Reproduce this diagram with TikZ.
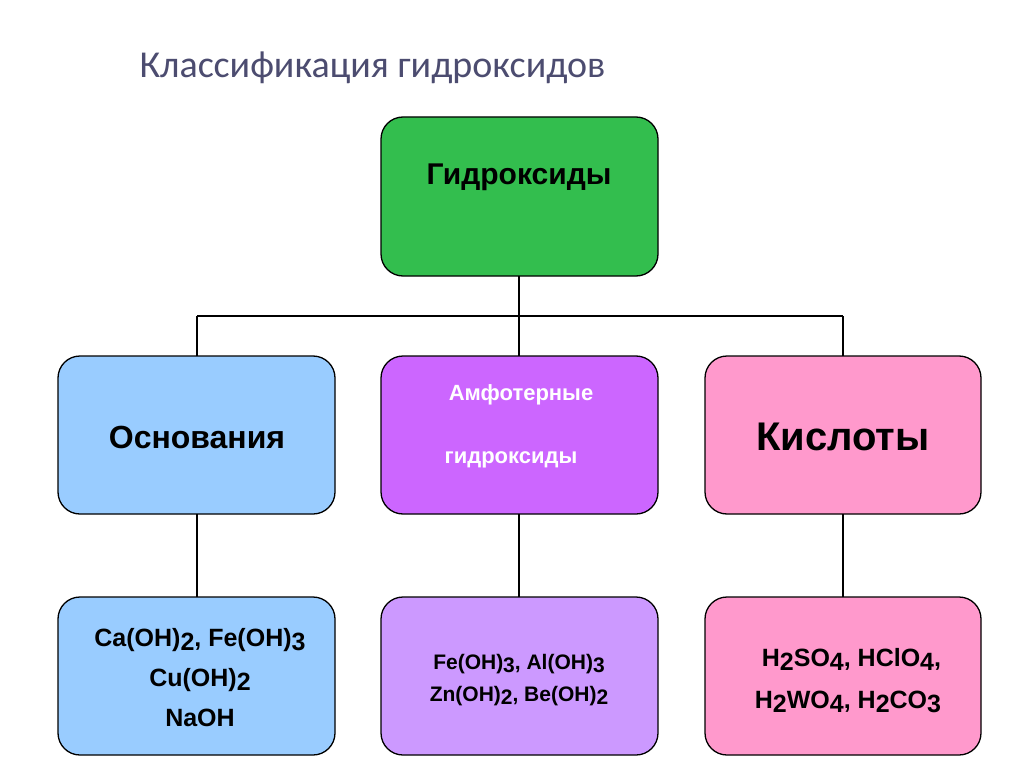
\documentclass[tikz,border=0pt]{standalone}
\usepackage{fontspec}
\setmainfont{Liberation Sans}
\newfontfamily\titlefont{Carlito}
\newcommand{\sbs}[1]{\raisebox{-0.3ex}{#1}}
\begin{document}
\begin{tikzpicture}[x=1pt,y=-1pt,
  box/.style={draw=black,line width=1.3pt,rounded corners=22pt},
  lbl/.style={font=\bfseries,align=center,inner sep=0pt},
  conn/.style={line width=2pt}]
\useasboundingbox (0,0) rectangle (1024,767);
\fill[white] (0,0) rectangle (1024,767);
\node[anchor=west,text=black!65!blue!40!gray,font=\titlefont\fontsize{38}{44}\selectfont] (title) at (136,68) {Классификация гидроксидов};
% top
\draw[box,fill={rgb,255:red,51;green,190;blue,78}] (381,117) rectangle (658,276);
\node[lbl,font=\bfseries\fontsize{30}{34}\selectfont] (top) at (519,177) {Гидроксиды};
% middle
\draw[box,fill={rgb,255:red,153;green,204;blue,255}] (58,356) rectangle (335,514);
\draw[box,fill={rgb,255:red,204;green,102;blue,255}] (381,356) rectangle (658,514);
\draw[box,fill={rgb,255:red,255;green,153;blue,204}] (705,356) rectangle (981,514);
\node[lbl,font=\bfseries\fontsize{32}{36}\selectfont] (osn) at (197,437) {Основания};
\node[lbl,text=white,font=\bfseries\fontsize{22}{26}\selectfont] (amf1) at (521,395) {Амфотерные};
\node[lbl,text=white,font=\bfseries\fontsize{22}{26}\selectfont] (amf2) at (511,460) {гидроксиды};
\node[lbl,font=\bfseries\fontsize{40}{44}\selectfont] (kis) at (843,437) {Кислоты};
% bottom
\draw[box,fill={rgb,255:red,153;green,204;blue,255}] (58,597) rectangle (335,755);
\draw[box,fill={rgb,255:red,204;green,153;blue,255}] (381,597) rectangle (658,755);
\draw[box,fill={rgb,255:red,255;green,153;blue,204}] (705,597) rectangle (981,755);
\node[lbl,font=\bfseries\fontsize{25}{40}\selectfont] (b1) at (200,678) {Ca(OH)\sbs{2}, Fe(OH)\sbs{3}\\Cu(OH)\sbs{2}\\NaOH};
\node[lbl,font=\bfseries\fontsize{21}{32}\selectfont] (b2) at (519,680) {Fe(OH)\sbs{3}, Al(OH)\sbs{3}\\Zn(OH)\sbs{2}, Be(OH)\sbs{2}};
\node[lbl,font=\bfseries\fontsize{25}{42}\selectfont] (b3) at (848,681) {\ H\sbs{2}SO\sbs{4}, HClO\sbs{4},\\H\sbs{2}WO\sbs{4}, H\sbs{2}CO\sbs{3}};
% connectors
\coordinate (j) at (519,316);
\coordinate (jl) at (197,316);
\coordinate (jr) at (843,316);
\draw[conn] (519,276) -- (j);
\draw[conn] (jl) -- (jr);
\draw[conn] (jl) -- (197,356);
\draw[conn] (j) -- (519,356);
\draw[conn] (jr) -- (843,356);
\draw[conn] (197,514) -- (197,597);
\draw[conn] (519,514) -- (519,597);
\draw[conn] (843,514) -- (843,597);
\end{tikzpicture}
\end{document}
